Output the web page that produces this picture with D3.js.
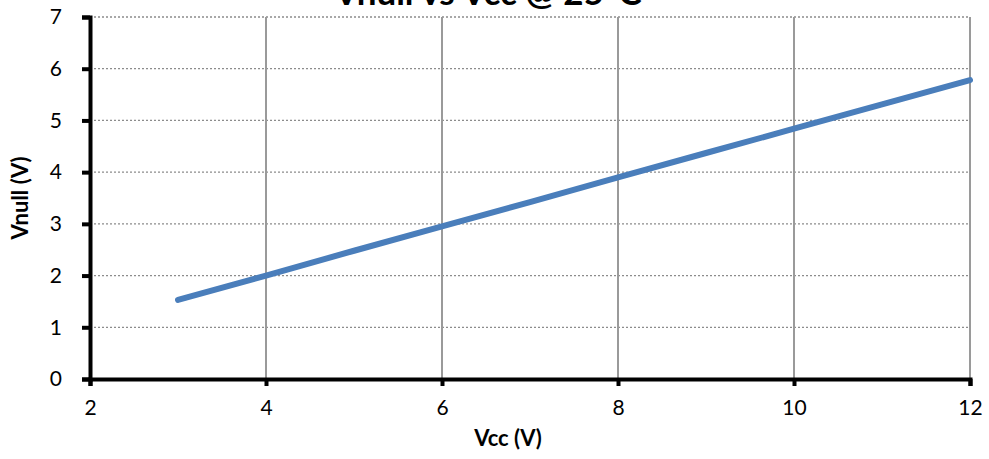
<!DOCTYPE html>
<html>
<head>
<meta charset="utf-8">
<script src="https://cdn.jsdelivr.net/npm/d3@7"></script>
<style>
  body { margin: 0; background: #fff; }
  svg { font-family: Lato, "Open Sans", sans-serif; }
</style>
</head>
<body>
<svg id="chart" width="989" height="459"></svg>
<script>
var vcc = [3, 4, 5, 6, 7, 8, 9, 10, 11, 12];
var vnull = [1.53, 2.0, 2.48, 2.95, 3.42, 3.9, 4.37, 4.84, 5.31, 5.78];
var xTicks = [2, 4, 6, 8, 10, 12];
var yTicks = [0, 1, 2, 3, 4, 5, 6, 7];

var svg = d3.select("#chart"), width = 989, height = 459;
var plotLeft = 90, plotRight = 970, plotTop = 17, plotBottom = 379;

var x = d3.scaleLinear().domain([2, 12]).range([plotLeft, plotRight]);
var y = d3.scaleLinear().domain([0, 7]).range([plotBottom, plotTop]);

// horizontal dotted grid
svg.append("g")
    .selectAll("line")
    .data(yTicks.slice(1))
    .enter()
    .append("line")
    .attr("x1", plotLeft).attr("x2", plotRight)
    .attr("y1", d => y(d)).attr("y2", d => y(d))
    .attr("stroke", "#8c8c8c")
    .attr("stroke-width", 1.3)
    .attr("stroke-dasharray", "2,2");

// vertical grid
svg.append("g")
    .selectAll("line")
    .data(xTicks.slice(1))
    .enter()
    .append("line")
    .attr("x1", d => x(d)).attr("x2", d => x(d))
    .attr("y1", plotTop).attr("y2", plotBottom)
    .attr("stroke", "#9a9a9a")
    .attr("stroke-width", 2);

// series line
var line = d3.line()
    .x((d, i) => x(vcc[i]))
    .y(d => y(d));

svg.append("path")
    .datum(vnull)
    .attr("d", line)
    .attr("fill", "none")
    .attr("stroke", "#4a7ebb")
    .attr("stroke-width", 6)
    .attr("stroke-linecap", "round");

// axes
var xAxis = svg.append("g")
    .attr("transform", "translate(0," + plotBottom + ")")
    .call(d3.axisBottom(x).tickValues(xTicks).tickFormat(d3.format("d")).tickSize(7).tickPadding(14));
var yAxis = svg.append("g")
    .attr("transform", "translate(" + plotLeft + ",0)")
    .call(d3.axisLeft(y).tickValues(yTicks).tickFormat(d3.format("d")).tickSize(8).tickPadding(20));

[xAxis, yAxis].forEach(function (a) {
    a.select(".domain").attr("stroke", "#000").attr("stroke-width", 4);
    a.selectAll(".tick line").attr("stroke", "#000").attr("stroke-width", 4);
    a.selectAll(".tick text")
        .attr("fill", "#000")
        .style("font-size", "21px")
        .style("font-family", "Lato, 'Open Sans', sans-serif");
});

// titles
svg.append("text")
    .attr("x", 488).attr("y", 5)
    .attr("text-anchor", "middle")
    .style("font-size", "35px")
    .style("font-weight", "bold")
    .text("Vnull vs Vcc @ 25°C");

svg.append("text")
    .attr("x", 508).attr("y", 446)
    .attr("text-anchor", "middle")
    .style("font-size", "22px")
    .style("font-weight", "bold")
    .text("Vcc (V)");

svg.append("text")
    .attr("transform", "translate(28," + y(3.5) + ") rotate(-90)")
    .attr("text-anchor", "middle")
    .style("font-size", "22px")
    .style("font-weight", "bold")
    .text("Vnull (V)");
</script>
</body>
</html>
